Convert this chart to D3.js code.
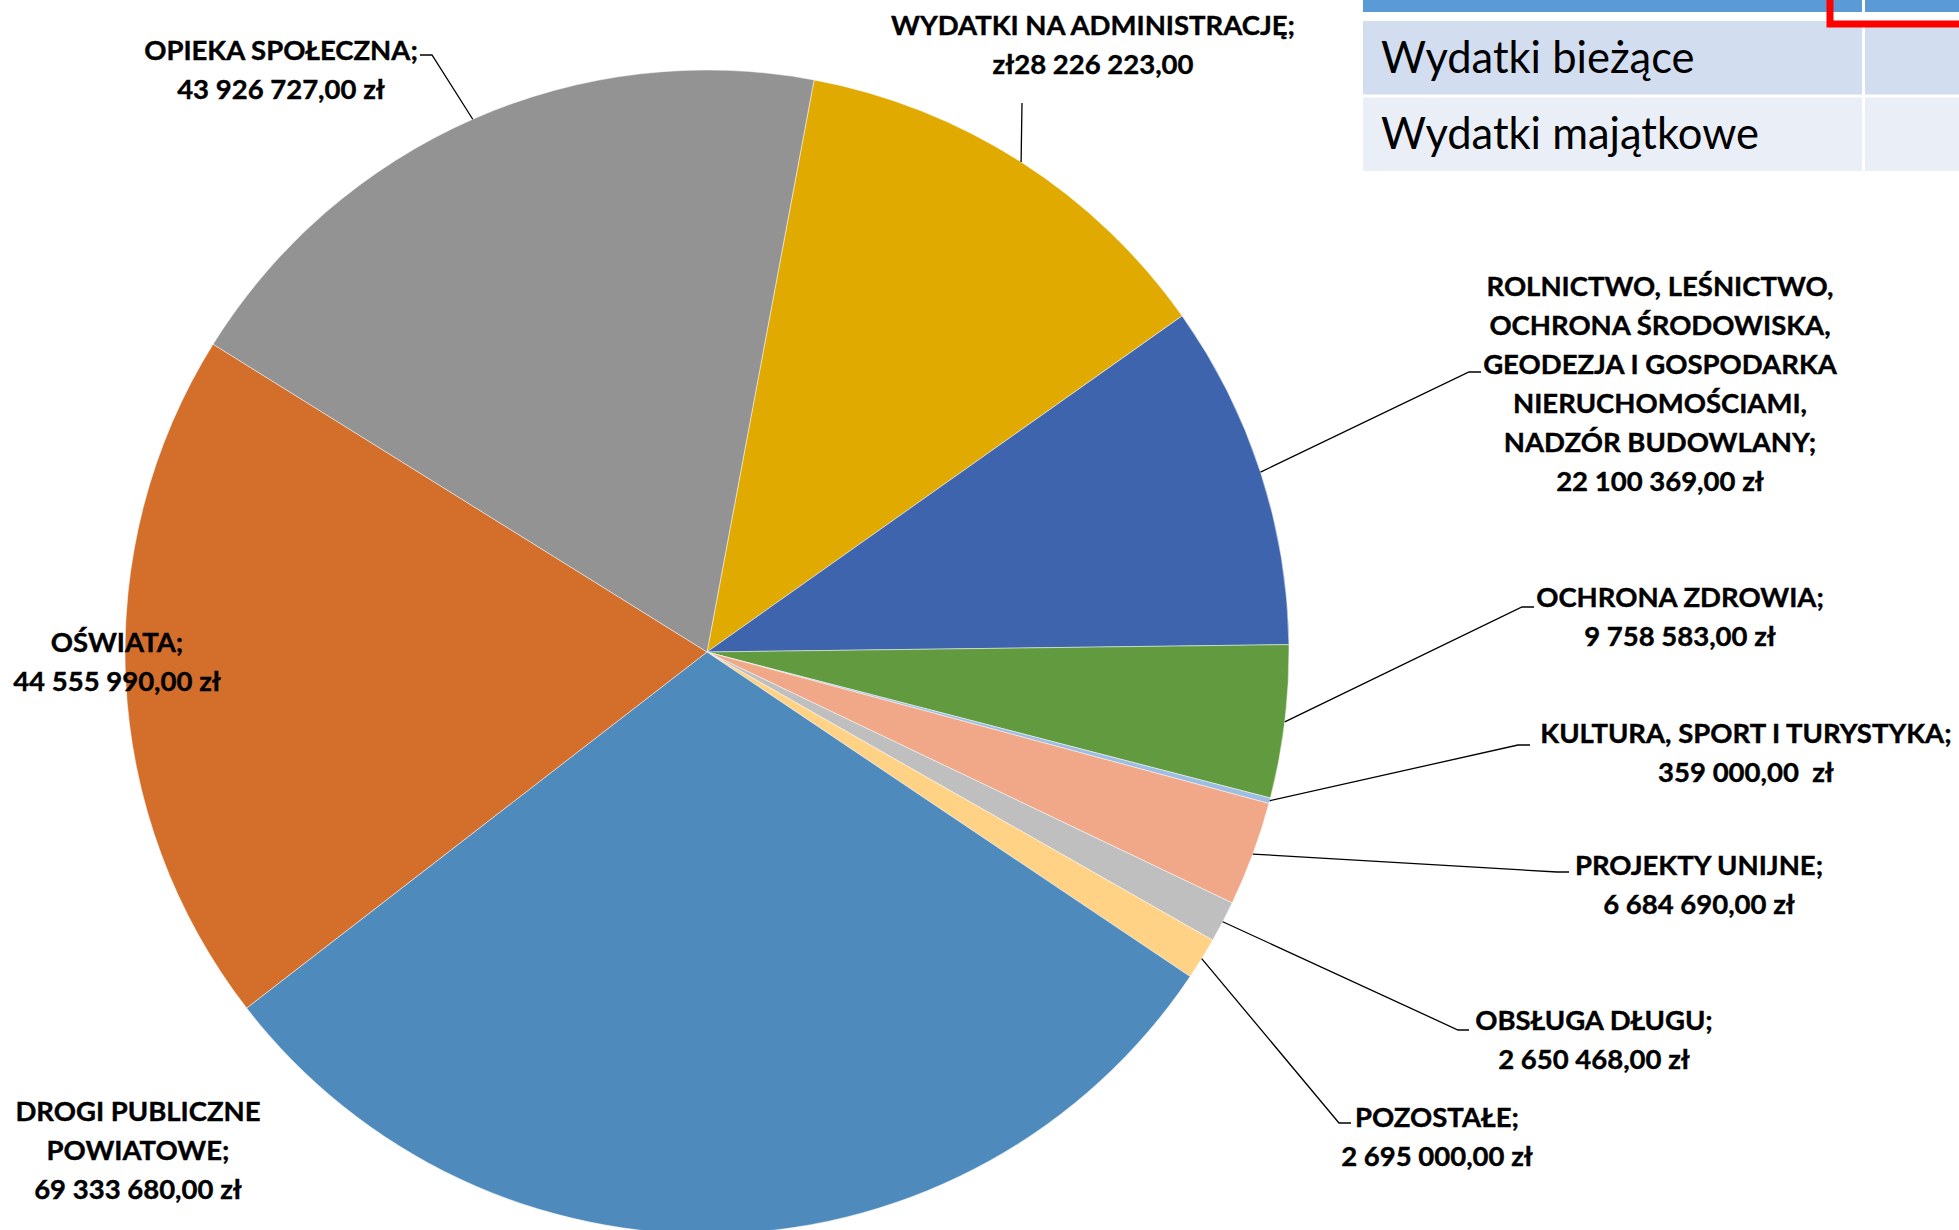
<!DOCTYPE html>
<html><head><meta charset="utf-8">
<script src="https://cdn.jsdelivr.net/npm/d3@7"></script>
<style>
html,body{margin:0;padding:0;background:#fff;overflow:hidden}
svg{display:block}
</style></head>
<body>
<svg id="chart" width="1959" height="1230"></svg>
<script>
// ---- data ----
const categories = [
  "WYDATKI NA ADMINISTRACJĘ",
  "ROLNICTWO, LEŚNICTWO,|OCHRONA ŚRODOWISKA,|GEODEZJA I GOSPODARKA|NIERUCHOMOŚCIAMI,|NADZÓR BUDOWLANY",
  "OCHRONA ZDROWIA",
  "KULTURA, SPORT I TURYSTYKA",
  "PROJEKTY UNIJNE",
  "OBSŁUGA DŁUGU",
  "POZOSTAŁE",
  "DROGI PUBLICZNE|POWIATOWE",
  "OŚWIATA",
  "OPIEKA SPOŁECZNA"
];
const values = [28226223, 22100369, 9758583, 359000, 6684690, 2650468, 2695000, 69333680, 44555990, 43926727];
const currencyBefore = [true, false, false, false, false, false, false, false, false, false];
const colors = ["#E1AA00", "#3D64AD", "#629B3F", "#9EBDE3", "#F0A889", "#BFBFBF", "#FFD285", "#4F8ABD", "#D36E2B", "#939393"];
const tableRows = ["Wydatki bieżące", "Wydatki majątkowe"];

// ---- layout (positions only) ----
const cx = 707, cy = 652, R = 582;
const startDeg = 10.6;
// label centre x, first line centre y, optional leader [elbow, end]
const labelLayout = [
  {x: 1093, y: 25,  leader: [[1022, 103], [1022, 103]]},
  {x: 1660, y: 286, leader: [[1469, 372], [1481, 372]]},
  {x: 1680, y: 597, leader: [[1522, 607], [1534, 607]]},
  {x: 1746, y: 733, leader: [[1518, 745], [1530, 745]]},
  {x: 1699, y: 865, leader: [[1557, 872], [1569, 872]]},
  {x: 1594, y: 1020, leader: [[1458, 1030], [1469, 1030]]},
  {x: 1437, y: 1117, leader: [[1339, 1123], [1351, 1123]]},
  {x: 138,  y: 1111, leader: null},
  {x: 117,  y: 642,  leader: null},
  {x: 281,  y: 50,   leader: [[432, 55], [420, 55]]}
];
const lineH = 39;

const svg = d3.select("#chart");
const locale = d3.formatLocale({decimal: ",", thousands: " ", grouping: [3], currency: ["", ""]});
const fmt = locale.format(",.2f");

// ---- table fragment (top right) ----
const tbl = svg.append("g");
tbl.append("rect").attr("x", 1363).attr("y", 0).attr("width", 499).attr("height", 12).attr("fill", "#5B9BD5");
tbl.append("rect").attr("x", 1865).attr("y", 0).attr("width", 94).attr("height", 12).attr("fill", "#5B9BD5");
const rowY = d3.scaleBand().domain(tableRows).range([21, 171]).paddingInner(0.04);
const rowFill = ["#D2DEEF", "#EAEFF7"];
tableRows.forEach((t, i) => {
  tbl.append("rect").attr("x", 1363).attr("y", rowY(t)).attr("width", 499).attr("height", rowY.bandwidth()).attr("fill", rowFill[i]);
  tbl.append("rect").attr("x", 1865).attr("y", rowY(t)).attr("width", 94).attr("height", rowY.bandwidth()).attr("fill", rowFill[i]);
  tbl.append("text").attr("x", 1381).attr("y", rowY(t) + rowY.bandwidth() / 2 + 15)
    .attr("font-family", "Lato, sans-serif").attr("font-size", 43.5).attr("fill", "#000").text(t);
});
tbl.append("rect").attr("x", 1830).attr("y", -20).attr("width", 200).attr("height", 44)
  .attr("fill", "none").attr("stroke", "#FF0000").attr("stroke-width", 7);

// ---- pie ----
const pie = d3.pie().sort(null).value(d => d)
  .startAngle(startDeg * Math.PI / 180).endAngle((startDeg + 360) * Math.PI / 180);
const arcs = pie(values);
const arc = d3.arc().innerRadius(0).outerRadius(R);
const g = svg.append("g").attr("transform", `translate(${cx},${cy})`);
g.selectAll("path").data(arcs).join("path")
  .attr("d", arc)
  .attr("fill", (d, i) => colors[i])
  .attr("stroke", "#fff").attr("stroke-width", 0.8).attr("stroke-opacity", 0.6);

// ---- leader lines ----
arcs.forEach((a, i) => {
  const L = labelLayout[i];
  if (!L.leader) return;
  const m = (a.startAngle + a.endAngle) / 2;
  const p0 = [cx + R * Math.sin(m), cy - R * Math.cos(m)];
  svg.append("polyline")
    .attr("points", [p0, L.leader[0], L.leader[1]].map(p => p.join(",")).join(" "))
    .attr("fill", "none").attr("stroke", "#000").attr("stroke-width", 1.3);
});

// ---- labels ----
arcs.forEach((a, i) => {
  const L = labelLayout[i];
  const num = fmt(values[i]);
  const valText = currencyBefore[i] ? "zł" + num : num + (i === 3 ? "  zł" : " zł");
  const lines = categories[i].split("|");
  lines[lines.length - 1] += ";";
  lines.push(valText);
  const t = svg.append("text")
    .attr("font-family", "Lato, sans-serif").attr("font-weight", 700)
    .attr("font-size", 27.5).attr("fill", "#000").attr("text-anchor", "middle")
    .attr("stroke", "#000").attr("stroke-width", 0.4)
    .style("white-space", "pre");
  lines.forEach((ln, k) => {
    t.append("tspan").attr("x", L.x).attr("y", L.y + k * lineH + 10).text(ln);
  });
});
</script>
</body></html>
